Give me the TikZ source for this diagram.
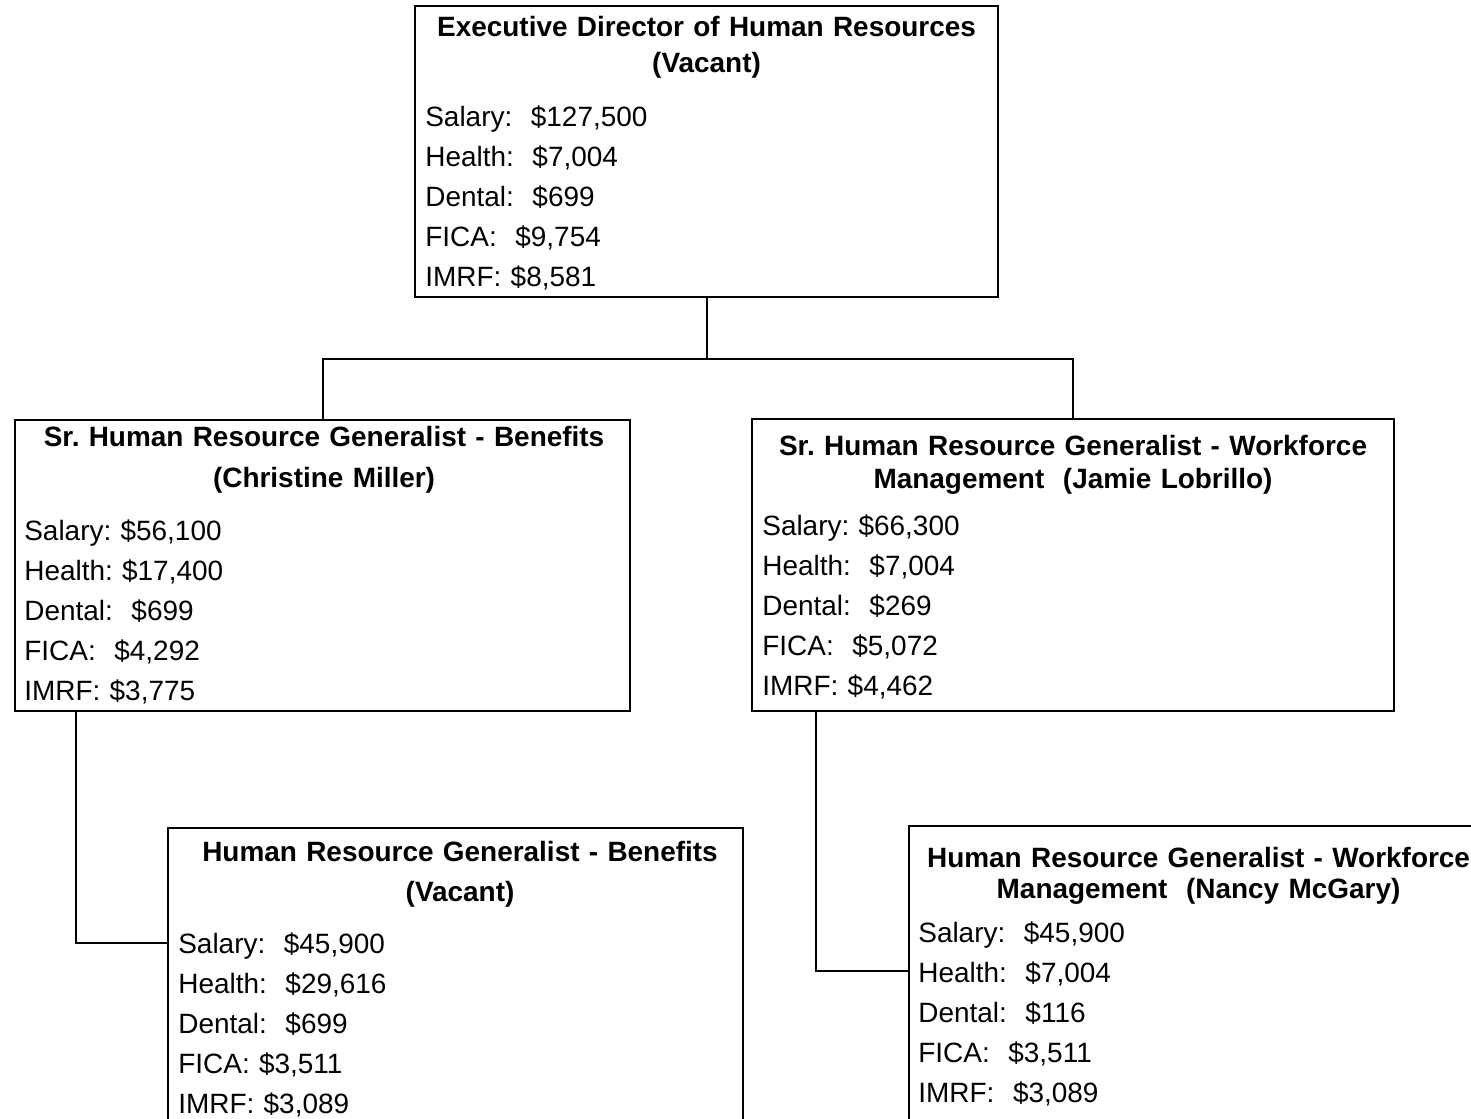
\documentclass[tikz,border=0pt]{standalone}
\usepackage{fontspec}
\setmainfont{Liberation Sans}
\usetikzlibrary{positioning, calc}

\begin{document}
\frenchspacing
\begin{tikzpicture}[
  posbox/.style={draw, line width=1.2pt, anchor=north west, inner sep=0pt, minimum height=#1},
  posbox/.default=5.82cm,
  head/.style={anchor=base, inner sep=0pt, align=center, font=\bfseries\fontsize{15.9pt}{#1}\selectfont},
  cost/.style={anchor=base west, inner sep=0pt, text width=8cm, align=left, font=\fontsize{15.9pt}{0.8cm}\selectfont},
  link/.style={line width=1.2pt}
]
\useasboundingbox (0,0) rectangle (29.42,-22.36);
\clip (0,0) rectangle (29.42,-22.36);

\node[posbox, minimum width=11.66cm] (dir) at (8.28,-0.10) {};
\node[posbox, minimum width=12.30cm] (srben) at (0.28,-8.38) {};
\node[posbox=5.84cm, minimum width=12.84cm] (srwork) at (15.02,-8.36) {};
\node[posbox=5.9cm, minimum width=11.50cm] (genben) at (3.34,-16.54) {};
\node[posbox=5.9cm, minimum width=11.58cm] (genwork) at (18.16,-16.50) {};

\node[head=0.72cm, text width=11.66cm] (dirhead) at ($(dir.north)+(0,-0.62)$)
  {Executive Director of Human Resources\\(Vacant)};
\node[cost] (dircost) at ($(dir.north west)+(0.22,-2.42)$)
  {Salary:~~\$127,500\\Health:~~\$7,004\\Dental:~~\$699\\FICA:~~\$9,754\\IMRF: \$8,581};

\node[head=0.82cm, text width=12.30cm] (srbenhead) at ($(srben.north)+(0.03,-0.54)$)
  {Sr. Human Resource Generalist - Benefits\\(Christine Miller)};
\node[cost] (srbencost) at ($(srben.north west)+(0.20,-2.42)$)
  {Salary: \$56,100\\Health: \$17,400\\Dental:~~\$699\\FICA:~~\$4,292\\IMRF: \$3,775};

\node[head=0.66cm, text width=12.84cm] (srworkhead) at ($(srwork.north)+(0,-0.74)$)
  {Sr. Human Resource Generalist - Workforce\\Management~~(Jamie Lobrillo)};
\node[cost] (srworkcost) at ($(srwork.north west)+(0.22,-2.34)$)
  {Salary: \$66,300\\Health:~~\$7,004\\Dental:~~\$269\\FICA:~~\$5,072\\IMRF: \$4,462};

\node[head=0.80cm, text width=11.50cm] (genbenhead) at ($(genben.north)+(0.09,-0.68)$)
  {Human Resource Generalist - Benefits\\(Vacant)};
\node[cost] (genbencost) at ($(genben.north west)+(0.22,-2.52)$)
  {Salary:~~\$45,900\\Health:~~\$29,616\\Dental:~~\$699\\FICA: \$3,511\\IMRF: \$3,089};

\node[head=0.62cm, text width=11.58cm] (genworkhead) at ($(genwork.north)+(0,-0.84)$)
  {Human Resource Generalist - Workforce\\Management~~(Nancy McGary)};
\node[cost] (genworkcost) at ($(genwork.north west)+(0.20,-2.34)$)
  {Salary:~~\$45,900\\Health:~~\$7,004\\Dental:~~\$116\\FICA:~~\$3,511\\IMRF:~~\$3,089};

\draw[link] (dir.south) -- ++(0,-1.22) coordinate (split);
\draw[link] (srben.north) |- (split) -| (srwork.north);
\draw[link] ($(srben.south west)+(1.24,0)$) |- ($(genben.north west)+(0,-2.32)$);
\draw[link] ($(srwork.south west)+(1.30,0)$) |- ($(genwork.north west)+(0,-2.92)$);
\end{tikzpicture}
\end{document}
